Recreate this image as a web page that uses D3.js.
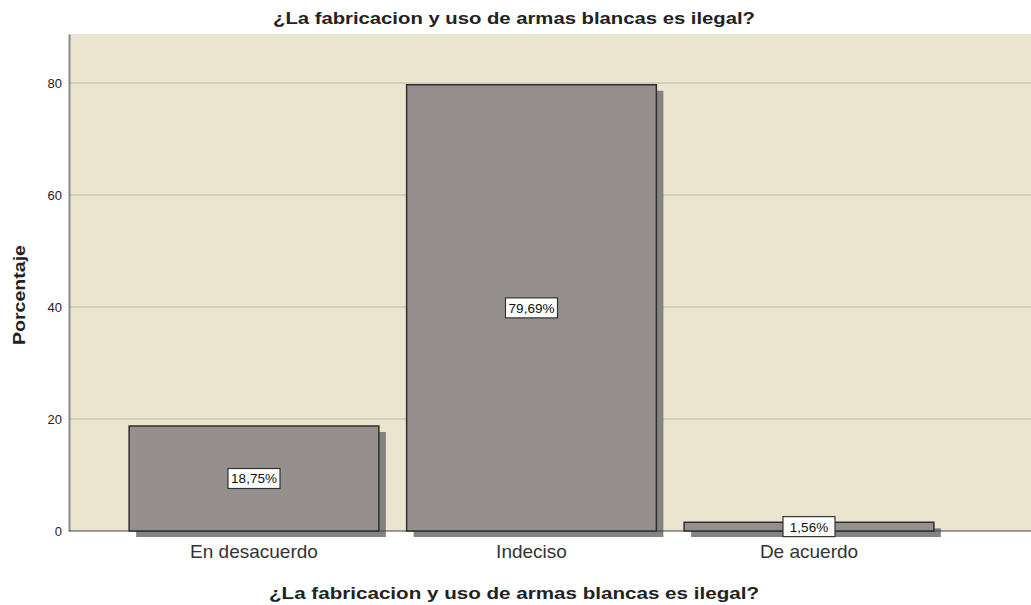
<!DOCTYPE html>
<html><head><meta charset="utf-8">
<script src="https://cdn.jsdelivr.net/npm/d3@7"></script>
<style>body{margin:0;background:#fff}svg{display:block;font-family:"Liberation Sans",Arial,sans-serif}</style>
</head><body>
<script>
const categories = ["En desacuerdo", "Indeciso", "De acuerdo"];
const values = [18.75, 79.69, 1.56];
const valueLabels = ["18,75%", "79,69%", "1,56%"];
const yTicks = [0, 20, 40, 60, 80];
const title = "¿La fabricacion y uso de armas blancas es ilegal?";
const xTitle = "¿La fabricacion y uso de armas blancas es ilegal?";
const yTitle = "Porcentaje";

(function () {
const W = 1031, H = 605;
const svg = d3.select("body").append("svg").attr("width", W).attr("height", H);
const pL = 69, pR = 1031, pT = 34, pB = 531;

const y = d3.scaleLinear().domain([0, 88.75]).range([pB, pT]);
const x = d3.scaleBand().domain(categories).range([115.25, 947.75]).paddingInner(0.1).paddingOuter(0.05);

svg.append("rect").attr("x", pL).attr("y", pT).attr("width", pR - pL).attr("height", pB - pT).attr("fill", "#ebe4cf");

svg.append("g").selectAll("line").data(yTicks.filter(d => d > 0)).join("line")
  .attr("x1", pL).attr("x2", pR).attr("y1", d => y(d)).attr("y2", d => y(d))
  .attr("stroke", "#bdbab2").attr("stroke-width", 1);

const yAxis = d3.axisLeft(y).tickValues(yTicks).tickSize(0).tickPadding(7);
const gy = svg.append("g").attr("transform", `translate(${pL},0)`).call(yAxis);
gy.select(".domain").attr("stroke", "#8a8a8a").attr("stroke-width", 2);
gy.selectAll("text").attr("font-size", 13).attr("fill", "#222").attr("font-family", '"Liberation Sans",Arial,sans-serif');

svg.append("g").selectAll("rect").data(values).join("rect")
  .attr("x", (d, i) => x(categories[i]) + 7).attr("y", d => y(d) + 6)
  .attr("width", x.bandwidth()).attr("height", d => pB - y(d))
  .attr("fill", "#858382");

svg.append("line").attr("x1", pL).attr("x2", pR).attr("y1", pB).attr("y2", pB).attr("stroke", "#444").attr("stroke-width", 1.2);

svg.append("g").selectAll("rect").data(values).join("rect")
  .attr("x", (d, i) => x(categories[i])).attr("y", d => y(d))
  .attr("width", x.bandwidth()).attr("height", d => pB - y(d))
  .attr("fill", "#95908e").attr("stroke", "#2e2e2e").attr("stroke-width", 1.5);

const lg = svg.append("g").selectAll("g").data(values).join("g")
  .attr("transform", (d, i) => `translate(${x(categories[i]) + x.bandwidth() / 2},${(y(d) + pB) / 2})`);
lg.append("rect").attr("x", -26).attr("y", -10).attr("width", 52).attr("height", 20)
  .attr("fill", "#fff").attr("stroke", "#333").attr("stroke-width", 1.2);
lg.append("text").attr("text-anchor", "middle").attr("dy", "0.36em").attr("font-size", 13.5).attr("fill", "#111")
  .text((d, i) => valueLabels[i]);

svg.append("g").selectAll("text").data(categories).join("text")
  .attr("x", d => x(d) + x.bandwidth() / 2).attr("y", 558)
  .attr("text-anchor", "middle").attr("font-size", 19).attr("fill", "#333").text(d => d);

svg.append("text").attr("x", 514).attr("y", 24).attr("text-anchor", "middle").attr("font-size", 16).attr("font-weight", "bold").attr("fill", "#222")
  .attr("textLength", 482).attr("lengthAdjust", "spacingAndGlyphs").text(title);
svg.append("text").attr("x", 514).attr("y", 599).attr("text-anchor", "middle").attr("font-size", 17).attr("font-weight", "bold").attr("fill", "#222")
  .attr("textLength", 490).attr("lengthAdjust", "spacingAndGlyphs").text(xTitle);
svg.append("text").attr("transform", "translate(25,295) rotate(-90)").attr("text-anchor", "middle").attr("font-size", 16).attr("font-weight", "bold").attr("fill", "#222")
  .attr("textLength", 100).attr("lengthAdjust", "spacingAndGlyphs").text(yTitle);
})();
</script>
</body></html>
